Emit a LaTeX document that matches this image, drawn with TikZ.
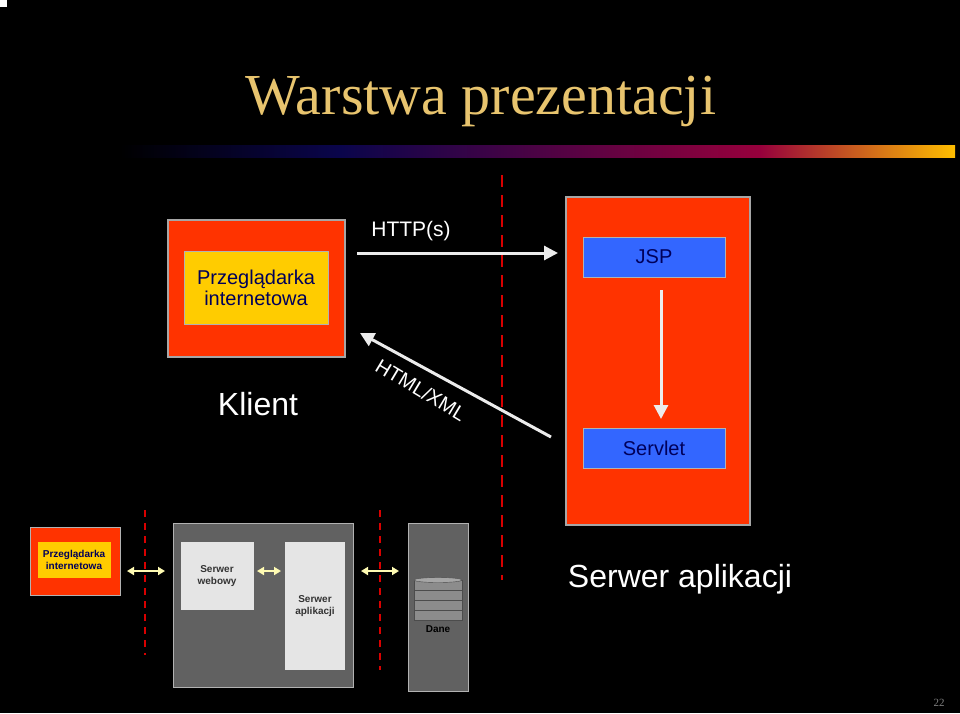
\documentclass[tikz,border=0pt]{standalone}
\usepackage{fontspec}
\setmainfont{Liberation Serif}
\setsansfont{Liberation Sans}
\usetikzlibrary{positioning,arrows.meta}
\definecolor{titlegold}{RGB}{232,196,110}
\definecolor{boxred}{RGB}{255,51,0}
\definecolor{boxyellow}{RGB}{255,204,0}
\definecolor{boxblue}{RGB}{51,102,255}
\definecolor{textnavy}{RGB}{0,0,90}
\definecolor{barnavy}{RGB}{10,5,75}
\definecolor{barcrimson}{RGB}{150,0,60}
\definecolor{barorange}{RGB}{255,190,0}
\tikzset{
  redbox/.style={draw=gray!70, line width=1.5pt, fill=boxred},
  labelbox/.style={draw=gray!60, line width=1pt, font=\sffamily\fontsize{20}{21}\selectfont, text=textnavy, align=center, inner sep=0pt},
  flow/.style={draw=gray!15, line width=3pt, -{Triangle[length=14pt,width=14pt]}},
  tier/.style={red!85!black, line width=2.5pt, dash pattern=on 12pt off 8pt},
  minitier/.style={red!85!black, line width=1.5pt, dash pattern=on 7pt off 6pt},
  minilink/.style={draw=yellow!30, line width=2.2pt, {Triangle[length=7pt,width=8pt]}-{Triangle[length=7pt,width=8pt]}},
  minibox/.style={fill=gray!20, font=\sffamily\bfseries\fontsize{10}{12}\selectfont, text=black!80, align=center, inner sep=0pt},
  tierbox/.style={fill=black!62, draw=gray!60, line width=1pt}
}
\begin{document}
\begin{tikzpicture}[x=1pt,y=-1pt]
  \fill[black] (0,0) rectangle (960,713);
  \useasboundingbox (0,0) rectangle (960,713);
  \fill[white] (0,0) rectangle (7,7);
  % title
  \node[text=titlegold, font=\fontsize{58}{62}\selectfont] (title) at (481,101) {Warstwa prezentacji};
  \shade[left color=black, right color=barnavy] (120,145) rectangle (340,157);
  \shade[left color=barnavy, right color=barcrimson] (340,145) rectangle (760,157);
  \shade[left color=barcrimson, right color=barorange] (760,145) rectangle (955,157);
  % client
  \draw[redbox] (168,220) rectangle (345,357);
  \node[labelbox, fill=boxyellow, minimum width=144pt, minimum height=73pt] (browser) at (256,288) {Przeglądarka\\internetowa};
  \node[text=white, font=\sffamily\fontsize{32}{34}\selectfont] (client) at (258,404) {Klient};
  % tier border
  \draw[tier] (502,175) -- (502,580);
  % server
  \draw[redbox] (566,197) rectangle (750,525);
  \node[labelbox, fill=boxblue, minimum width=142pt, minimum height=40pt] (jsp) at (654,257) {JSP};
  \node[labelbox, fill=boxblue, minimum width=142pt, minimum height=40pt] (servlet) at (654,448) {Servlet};
  \node[text=white, font=\sffamily\fontsize{32}{34}\selectfont] (server) at (680,579) {Serwer aplikacji};
  % requests
  \coordinate (reqa) at (357,253);
  \coordinate (reqb) at (558,253);
  \coordinate (respa) at (551,437);
  \coordinate (respb) at (360,333);
  \draw[flow] (reqa) -- (reqb);
  \draw[flow] (respa) -- (respb);
  \draw[flow] (661,290) -- (661,419);
  \node[text=white, font=\sffamily\fontsize{21}{22}\selectfont] (http) at (411,231) {HTTP(s)};
  \node[text=white, font=\sffamily\fontsize{20}{21}\selectfont, rotate=-31] (html) at (421,390) {HTML/XML};
  % overview
  \fill[boxred, draw=gray!60, line width=1pt] (30,527) rectangle (120,595);
  \node[minibox, fill=boxyellow, text=textnavy, minimum width=73pt, minimum height=36pt] (mbrowser) at (74,560) {Przeglądarka\\internetowa};
  \draw[minitier] (145,510) -- (145,655);
  \draw[tierbox] (173,523) rectangle (353,687);
  \node[minibox, minimum width=73pt, minimum height=68pt] (mweb) at (217,576) {Serwer\\webowy};
  \node[minibox, minimum width=60pt, minimum height=128pt] (mapp) at (315,606) {Serwer\\aplikacji};
  \draw[minitier] (380,510) -- (380,670);
  \draw[tierbox] (408,523) rectangle (468,691);
  \foreach \y in {610,600,590,580}
    \draw[fill=black!45, draw=black!70] (414,\y) rectangle (462,\y+10);
  \draw[fill=black!35, draw=black!70] (438,580) ellipse (24pt and 2.5pt);
  \node[minibox, fill=none, text=black] (mdata) at (438,629) {Dane};
  \coordinate (la) at (127,571);
  \coordinate (lb) at (165,571);
  \draw[minilink] (la) -- (lb);
  \coordinate (lm) at (257,571);
  \coordinate (ln) at (281,571);
  \draw[minilink] (lm) -- (ln);
  \coordinate (lc) at (361,571);
  \coordinate (ld) at (399,571);
  \draw[minilink] (lc) -- (ld);
  \node[text=gray, font=\fontsize{11}{12}\selectfont] (page) at (939,703) {22};
\end{tikzpicture}
\end{document}
